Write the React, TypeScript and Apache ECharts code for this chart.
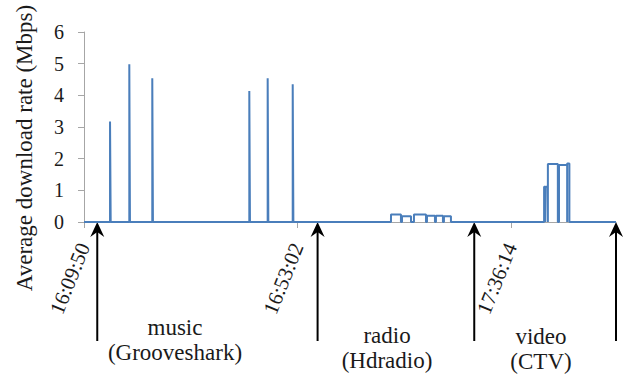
import React, { useEffect, useRef } from "react";
import * as echarts from "echarts";

// Seconds elapsed since 16:09:50
const tickSeconds = [0, 2592, 5184];
const tickLabels = ["16:09:50", "16:53:02", "17:36:14"];
const axisEndSeconds = 6459;

// Download bursts: start (s), end (s), rate (Mbps)
const burstStart = [316, 550, 829, 2007, 2230, 2534, 3727, 3861, 4006, 4164, 4273, 4370, 5586, 5606, 5632, 5767, 5866];
const burstEnd = [324, 558, 837, 2015, 2238, 2542, 3848, 3970, 4152, 4261, 4358, 4455, 5600, 5632, 5753, 5866, 5893];
const burstRate = [3.17, 4.98, 4.54, 4.14, 4.54, 4.35, 0.24, 0.18, 0.24, 0.2, 0.2, 0.18, 1.11, 1.11, 1.83, 1.8, 1.85];

// Session boundary arrows (s)
const arrowSeconds = [161, 2836, 4738, 6459];

// Annotation texts
const annotationLines = [
  ["music", "(Grooveshark)"],
  ["radio", "(Hdradio)"],
  ["video", "(CTV)"],
];

const yAxisTitle = "Average download rate (Mbps)";

const FONT = "Liberation Serif";
const LINE_COLOR = "#4A7EBB";
const AXIS_COLOR = "#A6A6A6";
const TEXT_COLOR = "#1a1a1a";

function buildSeries(): [number, number][] {
  const pts: [number, number][] = [[0, 0]];
  for (let i = 0; i < burstStart.length; i++) {
    pts.push([burstStart[i], burstRate[i]]);
    pts.push([burstEnd[i], 0]);
  }
  pts.push([axisEndSeconds, 0]);
  return pts;
}

export default function App() {
  const ref = useRef<HTMLDivElement>(null);

  useEffect(() => {
    if (!ref.current) return;
    const chart = echarts.init(ref.current, null, { renderer: "svg" });
    chart.setOption({
      animation: false,
      textStyle: { fontFamily: FONT },
      grid: { left: 84, right: 10, top: 32, bottom: 155 },
      xAxis: {
        type: "value",
        min: 0,
        max: axisEndSeconds,
        splitLine: { show: false },
        axisLine: { show: true, lineStyle: { color: AXIS_COLOR, width: 1 } },
        axisTick: {
          show: true,
          customValues: tickSeconds,
          length: 6,
          lineStyle: { color: AXIS_COLOR },
        },
        axisLabel: {
          customValues: tickSeconds,
          rotate: 68,
          margin: 22,
          fontFamily: FONT,
          fontSize: 21,
          color: TEXT_COLOR,
          formatter: (v: number) => {
            const i = tickSeconds.indexOf(v);
            return i >= 0 ? tickLabels[i] : "";
          },
        },
      },
      yAxis: {
        type: "value",
        min: 0,
        max: 6,
        interval: 1,
        splitLine: { show: false },
        axisLine: { show: true, lineStyle: { color: AXIS_COLOR, width: 1 } },
        axisTick: { show: true, length: 6, lineStyle: { color: AXIS_COLOR } },
        axisLabel: { fontFamily: FONT, fontSize: 20, color: TEXT_COLOR, margin: 20 },
      },
      series: [
        {
          type: "line",
          step: "end",
          symbol: "none",
          showSymbol: false,
          lineStyle: { color: LINE_COLOR, width: 2 },
          data: buildSeries(),
        },
      ],
    });

    const y0 = chart.convertToPixel({ yAxisIndex: 0 }, 0) as number;
    const graphics: any[] = [];
    arrowSeconds.forEach((t) => {
      const x = chart.convertToPixel({ xAxisIndex: 0 }, t) as number;
      const tip = y0;
      graphics.push({
        type: "line",
        shape: { x1: x, y1: tip + 10, x2: x, y2: 341 },
        style: { stroke: "#000", lineWidth: 2 },
        silent: true,
      });
      graphics.push({
        type: "polygon",
        shape: {
          points: [
            [x, tip],
            [x - 7, tip + 15],
            [x, tip + 10],
            [x + 7, tip + 15],
          ],
        },
        style: { fill: "#000" },
        silent: true,
      });
    });

    const annX = [175, 387, 541];
    const annY = [327, 335, 336];
    annotationLines.forEach((lines, i) => {
      lines.forEach((txt, j) => {
        graphics.push({
          type: "text",
          x: annX[i],
          y: annY[i] + j * 25,
          style: {
            text: txt,
            fontFamily: FONT,
            fontSize: 23,
            fill: TEXT_COLOR,
            textAlign: "center",
            textVerticalAlign: "middle",
          },
          silent: true,
        });
      });
    });

    graphics.push({
      type: "text",
      x: 24,
      y: 148,
      rotation: Math.PI / 2,
      style: {
        text: yAxisTitle,
        fontFamily: FONT,
        fontSize: 23,
        fill: TEXT_COLOR,
        textAlign: "center",
        textVerticalAlign: "middle",
      },
      silent: true,
    });

    chart.setOption({ graphic: graphics });
    return () => chart.dispose();
  }, []);

  return (
    <div
      ref={ref}
      style={{ position: "fixed", left: 0, top: 0, width: 626, height: 377, background: "#fff" }}
    />
  );
}
